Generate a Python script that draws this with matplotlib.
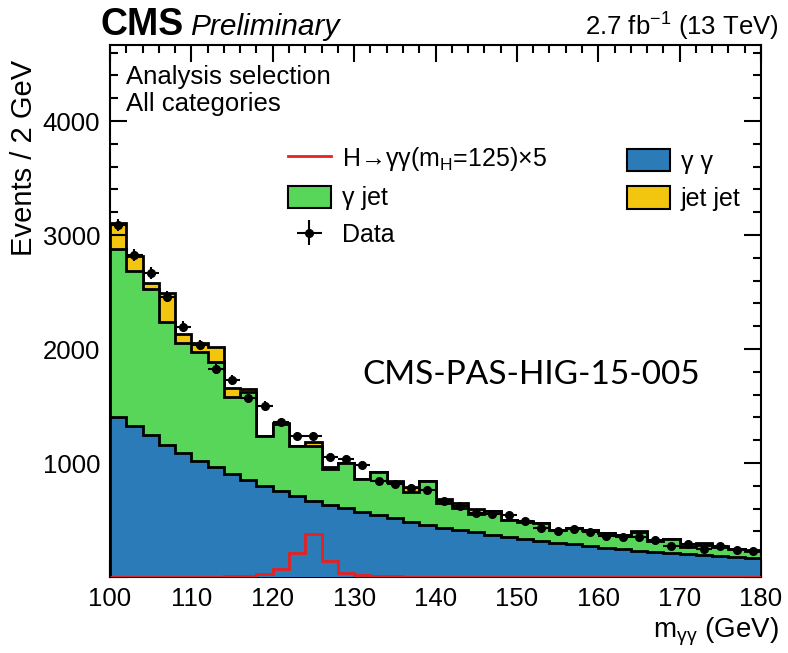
import numpy as np
import matplotlib as mpl
mpl.use('Agg')
import matplotlib.pyplot as plt
from matplotlib.ticker import MultipleLocator, FuncFormatter
from matplotlib.patches import Patch
from matplotlib.lines import Line2D

plt.rcParams['font.family'] = ['Liberation Sans', 'DejaVu Sans']
plt.rcParams['mathtext.fontset'] = 'custom'
plt.rcParams['mathtext.rm'] = 'Liberation Sans'
plt.rcParams['mathtext.it'] = 'Liberation Sans:italic'

# diphoton mass, 2 GeV bins from 100 to 180
edges = np.arange(100, 182, 2)
centers = edges[:-1] + 1

# gamma gamma background
gg = [1401, 1327, 1246, 1158, 1085, 1020, 962, 901, 851, 798,
      754, 711, 670, 632, 602, 567, 544, 515, 480, 456,
      433, 412, 392, 368, 348, 331, 316, 301, 287, 275,
      257, 246, 231, 222, 208, 199, 190, 184, 173, 164]
# gamma + jet, stacked on gamma gamma
gj_top = [2874, 2684, 2523, 2240, 2050, 1977, 1889, 1576, 1626, 1240,
          1340, 1152, 1145, 947, 997, 858, 920, 836, 742, 838,
          650, 605, 550, 580, 500, 485, 470, 412, 427, 412,
          383, 368, 398, 316, 333, 266, 281, 266, 246, 231]
# jet + jet, total of the stack
jj_top = [3108, 2819, 2582, 2488, 2129, 2050, 2020, 1661, 1649, 1240,
          1348, 1152, 1181, 968, 1003, 860, 922, 838, 790, 845,
          684, 646, 594, 582, 502, 487, 472, 414, 429, 414,
          385, 370, 400, 318, 335, 268, 301, 268, 248, 233]
data = [3088, 2825, 2664, 2459, 2196, 2035, 1822, 1728, 1567, 1503,
        1357, 1240, 1240, 1055, 1035, 982, 843, 813, 785, 763,
        669, 623, 564, 550, 544, 491, 430, 404, 418, 392,
        360, 348, 354, 325, 275, 287, 246, 272, 237, 228]
# signal mH=125 scaled by 5
sig = [0, 0, 0, 0, 0, 2, 3, 5, 10, 26,
       67, 213, 374, 142, 38, 18, 10, 6, 4, 3,
       2, 2, 1, 1, 1, 1, 1, 0, 0, 0,
       0, 0, 0, 0, 0, 0, 0, 0, 0, 0]

blue = '#2b7bb9'
green = '#58d65a'
yellow = '#f2c50f'
red = '#e8201e'

W, H = 788, 653
fig = plt.figure(figsize=(W / 100, H / 100), dpi=100)
ax = fig.add_axes([110 / W, 1 - 577 / H, 651 / W, 532 / H])

ax.stairs(jj_top, edges, fill=True, facecolor=yellow, edgecolor='black', linewidth=2, zorder=1)
ax.stairs(gj_top, edges, fill=True, facecolor=green, edgecolor='black', linewidth=2, zorder=2)
ax.stairs(gg, edges, fill=True, facecolor=blue, edgecolor='black', linewidth=2, zorder=3)
ax.stairs(sig, edges, color=red, linewidth=2, zorder=4)
eb = ax.errorbar(centers, data, xerr=1, yerr=np.sqrt(data), fmt='o', color='black',
                 markersize=5.5, elinewidth=1.5, capsize=0, zorder=5)

ax.set_xlim(100, 180)
ax.set_ylim(0, 4667)
ax.xaxis.set_major_locator(MultipleLocator(10))
ax.xaxis.set_minor_locator(MultipleLocator(2))
ax.yaxis.set_major_locator(MultipleLocator(1000))
ax.yaxis.set_minor_locator(MultipleLocator(200))
ax.yaxis.set_major_formatter(FuncFormatter(lambda v, p: '' if v == 0 else '%d' % v))
ax.tick_params(which='both', direction='in', top=True, right=True, width=1.5, labelsize=18.5)
ax.tick_params(which='major', length=12, pad=7)
ax.tick_params(which='minor', length=6)
for s in ax.spines.values():
    s.set_linewidth(1.5)

ax.set_ylabel('Events / 2 GeV', fontsize=21, loc='top')
ax.yaxis.set_label_coords((38 - 110) / 651, (577 - 60) / 532)
ax.set_xlabel(r'm$_{\mathrm{γγ}}$ (GeV)', fontsize=20, loc='right')
ax.xaxis.set_label_coords((779 - 110) / 651, -(632 - 577) / 532)
ax.xaxis.label.set_va('center')

fig.text(101 / W, 1 - 35 / H, 'CMS', fontsize=27, fontweight='bold', ha='left', va='baseline')
fig.text(190 / W, 1 - 35 / H, 'Preliminary', fontsize=21.5, style='italic', ha='left', va='baseline')
fig.text(779 / W, 1 - 36 / H, r'2.7 fb$^{\mathrm{-1}}$ (13 TeV)', fontsize=18.5, ha='right', va='baseline')

fig.text(126 / W, 1 - 77 / H, 'Analysis selection', fontsize=18.5, va='center')
fig.text(126 / W, 1 - 104 / H, 'All categories', fontsize=18.5, va='center')
fig.text(362 / W, 1 - 375 / H, 'CMS-PAS-HIG-15-005', fontsize=24, family='Lato', ha='left', va='center')

# legend, two hand-placed columns
fs = 18
col1 = [Line2D([], [], color=red, linewidth=2),
        Patch(facecolor=green, edgecolor='black', linewidth=1.5),
        eb]
lab1 = [r'H→γγ(m$_{\mathrm{H}}$=125)×5', 'γ jet', 'Data']
col2 = [Patch(facecolor=blue, edgecolor='black', linewidth=1.5),
        Patch(facecolor=yellow, edgecolor='black', linewidth=1.5)]
lab2 = ['γ γ', 'jet jet']
opts = dict(frameon=False, fontsize=fs, loc='upper left', borderpad=0, borderaxespad=0,
            handlelength=1.7, handleheight=1.0, labelspacing=0.5, handletextpad=0.45)
leg1 = ax.legend(col1, lab1, bbox_to_anchor=((288 - 110) / 651, (577 - 145) / 532), **opts)
ax.add_artist(leg1)
ax.legend(col2, lab2, bbox_to_anchor=((627 - 110) / 651, (577 - 149) / 532), **opts)

fig.savefig('out.png', dpi=100)
